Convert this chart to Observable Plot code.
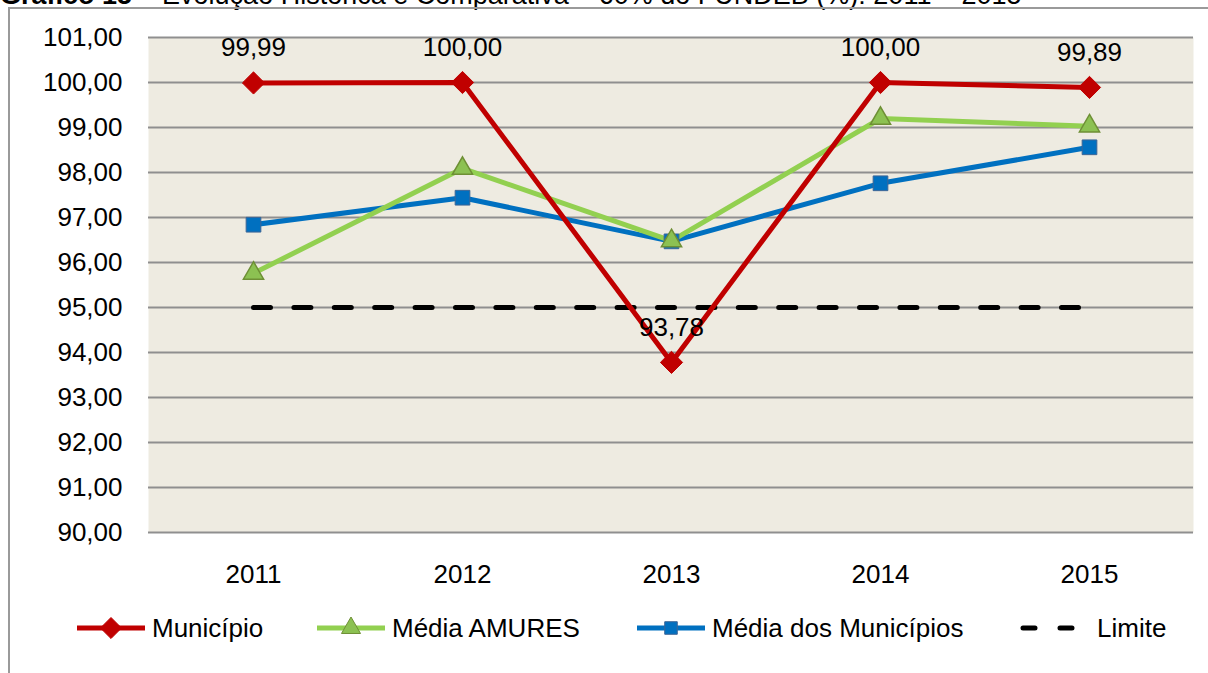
<!DOCTYPE html>
<html>
<head>
<meta charset="utf-8">
<script src="https://cdn.jsdelivr.net/npm/d3@7"></script>
<script src="https://cdn.jsdelivr.net/npm/@observablehq/plot@0.6"></script>
<style>
  html, body { margin: 0; padding: 0; background: #fff; overflow: hidden; }
  body { width: 1208px; height: 673px; position: relative; font-family: "Liberation Sans", Arial, sans-serif; }
  #title { position: absolute; left: 0; top: 0; width: 1208px; height: 12px; overflow: visible; }
  #frame { position: absolute; left: 8px; top: 7px; width: 1220px; height: 700px; border: 2px solid #9a9a9a; box-sizing: border-box; }
  #chart { position: absolute; left: 0; top: 0; }
  #legend { position: absolute; left: 0; top: 611px; width: 1208px; height: 34px; }
  .item { position: absolute; top: 0; height: 34px; display: flex; align-items: center; font-size: 26px; color: #000; white-space: nowrap; }
</style>
</head>
<body>
<svg id="title" width="1208" height="12"><text x="0" y="4" font-family="Liberation Sans, Arial, sans-serif" font-size="27" fill="#000"><tspan font-weight="bold">Gráfico 15</tspan> – Evolução Histórica e Comparativa – 60% do FUNDEB (%): 2011 – 2015</text></svg>
<div id="frame"></div>
<div id="chart"></div>
<div id="legend"></div>
<script>
const years = ["2011", "2012", "2013", "2014", "2015"];
const municipio = [99.99, 100.00, 93.78, 100.00, 99.89];
const mediaAmures = [95.76, 98.09, 96.48, 99.20, 99.03];
const mediaMunicipios = [96.84, 97.44, 96.47, 97.76, 98.56];
const limite = [95, 95, 95, 95, 95];
const yTicks = [90, 91, 92, 93, 94, 95, 96, 97, 98, 99, 100, 101];

const seriesNames = ["Município", "Média AMURES", "Média dos Municípios", "Limite"];
const colors = {"Município": "#C00000", "Média AMURES": "#92D050", "Média dos Municípios": "#0070C0", "Limite": "#000000"};

const rows = (name, vals) => years.map((y, i) => ({series: name, year: y, value: vals[i]}));
const dMun = rows("Município", municipio);
const dAm = rows("Média AMURES", mediaAmures);
const dMM = rows("Média dos Municípios", mediaMunicipios);
const dLim = rows("Limite", limite);

const fmt = v => v.toFixed(2).replace(".", ",");

const chart = Plot.plot({
  width: 1208,
  height: 580,
  marginLeft: 148,
  marginRight: 15,
  marginTop: 37,
  marginBottom: 48,
  style: {fontFamily: "Liberation Sans, Arial, sans-serif", fontSize: "26px", color: "#000", background: "transparent", overflow: "visible"},
  x: {type: "point", domain: years, padding: 0.5, label: null},
  y: {domain: [90, 101], label: null},
  marks: [
    Plot.frame({fill: "#EEEBE1", stroke: null}),
    Plot.ruleY(yTicks, {stroke: "#8f8f8f", strokeWidth: 2}),
    Plot.axisY(yTicks, {tickSize: 0, tickPadding: 26, tickFormat: fmt, fontSize: 26, label: null}),
    Plot.axisX({tickSize: 0, tickPadding: 32, fontSize: 26, label: null}),
    Plot.line(dLim, {x: "year", y: "value", stroke: "#000", strokeWidth: 5, strokeDasharray: "17,23.4", strokeLinecap: "round"}),
    Plot.line(dMM, {x: "year", y: "value", stroke: colors["Média dos Municípios"], strokeWidth: 5}),
    Plot.line(dAm, {x: "year", y: "value", stroke: colors["Média AMURES"], strokeWidth: 5}),
    Plot.line(dMun, {x: "year", y: "value", stroke: colors["Município"], strokeWidth: 5}),
    Plot.dot(dMM, {x: "year", y: "value", symbol: "square", r: 8.3, fill: "#0070C0", stroke: "#3C6596", strokeWidth: 1}),
    Plot.dot(dAm, {x: "year", y: "value", symbol: "triangle", r: 7.5, fill: "#8CC152", stroke: "#6E8F35", strokeWidth: 1.5}),
    Plot.dot(dMun, {x: "year", y: "value", symbol: "diamond2", r: 10, fill: "#C00000", stroke: "#C00000", strokeWidth: 1}),
    Plot.text(dMun, {x: "year", y: "value", text: d => fmt(d.value), dy: -35, fontSize: 26, fill: "#000"})
  ]
});
document.getElementById("chart").appendChild(chart);

// Legend
const legend = d3.select("#legend");
const legendPos = {"Município": 75, "Média AMURES": 315, "Média dos Municípios": 635, "Limite": 1020};
const symbols = {"Município": d3.symbolDiamond2, "Média AMURES": d3.symbolTriangle, "Média dos Municípios": d3.symbolSquare};
const symFill = {"Município": "#C00000", "Média AMURES": "#8CC152", "Média dos Municípios": "#0070C0"};
const symStroke = {"Município": "#C00000", "Média AMURES": "#6E8F35", "Média dos Municípios": "#3C6596"};
for (const name of seriesNames) {
  const it = legend.append("div").attr("class", "item").style("left", legendPos[name] + "px");
  const isLim = name === "Limite";
  const s = it.append("svg").attr("width", 77).attr("height", 34);
  if (isLim) {
    s.append("line").attr("x1", 3).attr("x2", 55).attr("y1", 17).attr("y2", 17)
      .attr("stroke", "#000").attr("stroke-width", 5).attr("stroke-linecap", "round").attr("stroke-dasharray", "12,25");
  } else {
    s.append("line").attr("x1", 2).attr("x2", 70).attr("y1", 17).attr("y2", 17)
      .attr("stroke", colors[name]).attr("stroke-width", 5);
    s.append("path").attr("transform", "translate(36,17)")
      .attr("d", d3.symbol(symbols[name], Math.PI * (name === "Município" ? 90 : 50))())
      .attr("fill", symFill[name]).attr("stroke", symStroke[name]).attr("stroke-width", 1);
  }
  it.append("span").text(name);
}
</script>
</body>
</html>
